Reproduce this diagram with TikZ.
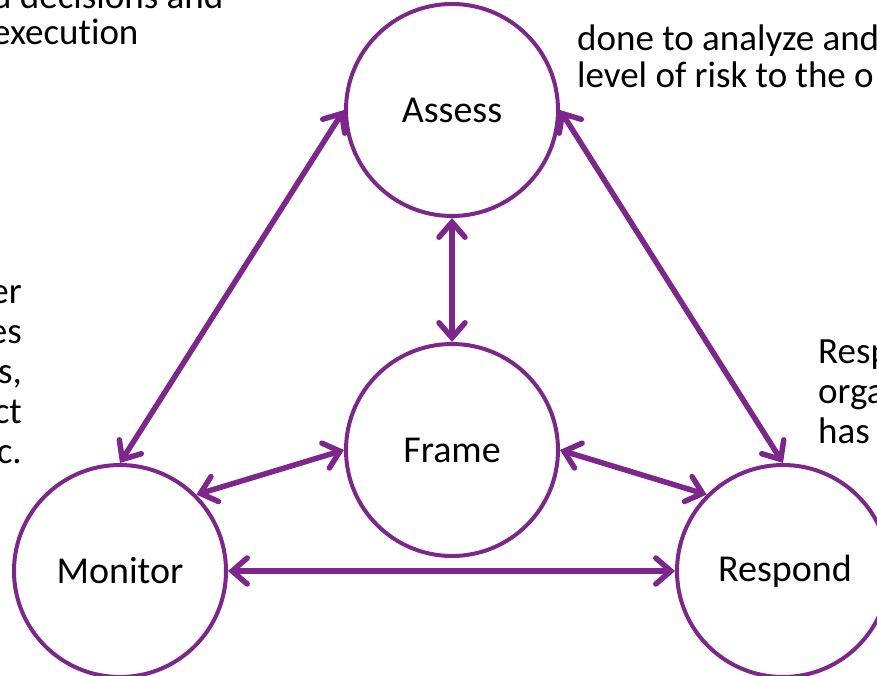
\documentclass[tikz,border=0pt]{standalone}
\usepackage{fontspec}
\setmainfont{Carlito}[Ligatures=NoCommon]
\usepackage{xcolor}
\usetikzlibrary{arrows.meta}
\definecolor{rmfpurple}{RGB}{125,38,140}

\begin{document}
\begin{tikzpicture}[
    x=1pt, y=-1pt,
    stage/.style = {
        circle, draw=rmfpurple, line width=4pt, fill=white,
        minimum size=212pt, inner sep=0pt,
        font=\fontsize{38}{45}\selectfont
    },
    side/.style = {
        inner sep=0pt, font=\fontsize{37}{40}\selectfont
    },
    link/.style = {
        {Straight Barb[length=15pt,width=26pt,line cap=round]}-{Straight Barb[length=15pt,width=26pt,line cap=round]},
        line width=5.5pt, color=rmfpurple, line cap=round
    }
]
\useasboundingbox (0,0) rectangle (877,676);
\clip (0,0) rectangle (877,676);

%% ---- SIDE TEXTS (cut off at the edges) ----
\node[side, anchor=base west, align=left] (topleft) at (-8,45)
    {d decisions and\\[-4pt]execution};
\node[side, anchor=base west, align=left] (topright) at (577,88)
    {done to analyze and\\[-3pt]level of risk to the o};
\node[side, anchor=base east, align=right] (leftside) at (22,463)
    {er\\es\\s,\\ct\\c.};
\node[side, anchor=base west, align=left] (rightside) at (818,443)
    {Resp\\orga\\has};

%% ---- STAGES ----
\node[stage] (assess)  at (452,110) {Assess};
\node[stage] (frame)   at (452,450) {Frame};
\node[stage] (monitor) at (120,571) {Monitor};
\node[stage] (respond) at (783,571) {\hspace*{4pt}Respond};

%% ---- ARROWS ----
\draw[link] (assess.south)  -- (frame.north);
\draw[link] (assess.west)   -- (monitor.north);
\draw[link] (assess.east)   -- (respond.north);
\draw[link] (frame.west)    -- (monitor.45);
\draw[link] (frame.east)    -- (respond.135);
\draw[link] (monitor.east)  -- (respond.west);

\end{tikzpicture}
\end{document}
